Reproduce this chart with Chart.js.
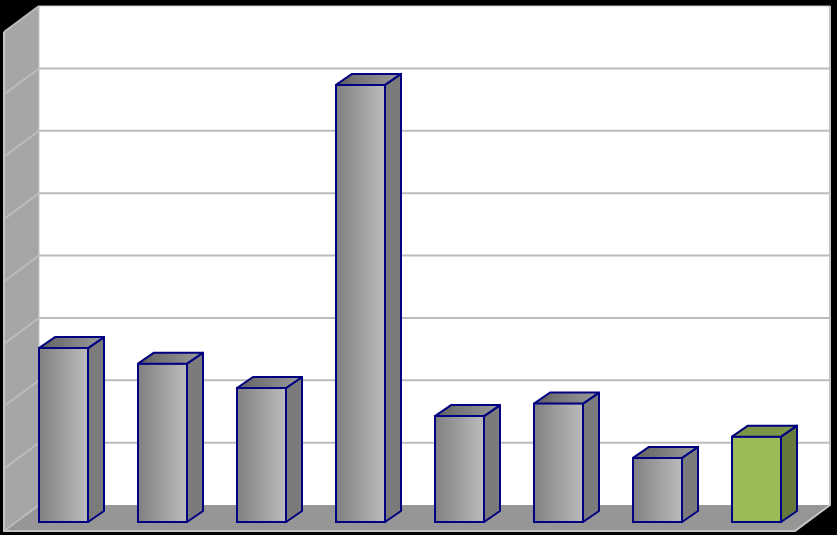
<!DOCTYPE html>
<html>
<head>
<meta charset="utf-8">
<title>Chart</title>
<script src="https://cdn.jsdelivr.net/npm/chart.js@4"></script>
<style>
  html, body { margin: 0; padding: 0; background: #000; }
  canvas { display: block; }
</style>
</head>
<body>
<canvas id="chart" width="837" height="535"></canvas>
<script>
// values (the original shows no labels, so the unit is one gridline)
const categories = ['1', '2', '3', '4', '5', '6', '7', '8'];
const seriesValues = [2.82, 2.57, 2.18, 7.04, 1.73, 1.93, 1.06, 1.4];
const tickValues = [0, 1, 2, 3, 4, 5, 6, 7, 8];

// 3d look: wall depth and bar depth in pixels
const wallDepth = { x: 35, y: -26 };
const barDepth = { x: 16, y: -11 };
const backShift = { x: 25, y: -18 }; // from the bar front plane to the back wall
const navy = '#000080';
const greyFaces = { dark: '#7f7f7f', light: '#bdbdbd', topDark: '#606060', topLight: '#9c9c9c', side: '#7b7b7b' };
const greenFaces = { front: '#9bbb59', top: '#7c9647', side: '#64793a' };
const highlighted = 7;
const barWidth = 51;

function poly(ctx, pts, fill, stroke, lw) {
  ctx.beginPath();
  pts.forEach((p, i) => i ? ctx.lineTo(p[0], p[1]) : ctx.moveTo(p[0], p[1]));
  ctx.closePath();
  if (fill) { ctx.fillStyle = fill; ctx.fill(); }
  if (stroke) { ctx.strokeStyle = stroke; ctx.lineWidth = lw; ctx.stroke(); }
}

const walls = {
  id: 'walls',
  beforeDatasetsDraw(chart) {
    const ctx = chart.ctx, y = chart.scales.y;
    const left = 39, right = 830;
    const top = y.getPixelForValue(8) + backShift.y;
    const floor = y.getPixelForValue(0) + backShift.y;
    ctx.save();
    // back wall
    ctx.fillStyle = '#ffffff';
    ctx.fillRect(left, top, right - left, floor - top);
    // left wall
    poly(ctx, [[left, top], [left, floor], [left - wallDepth.x, floor - wallDepth.y], [left - wallDepth.x, top - wallDepth.y]], '#a6a6a6');
    // floor
    poly(ctx, [[left, floor], [right, floor], [right - wallDepth.x, floor - wallDepth.y], [left - wallDepth.x, floor - wallDepth.y]], '#969696');
    // gridlines
    ctx.strokeStyle = '#bcbcbc';
    ctx.lineWidth = 2;
    tickValues.forEach(v => {
      const py = y.getPixelForValue(v) + backShift.y;
      ctx.beginPath();
      ctx.moveTo(left - wallDepth.x, py - wallDepth.y);
      ctx.lineTo(left, py);
      if (v > 0 && v < 8) ctx.lineTo(right, py);
      ctx.stroke();
    });
    // wall edges
    ctx.strokeStyle = '#c4c4c4';
    ctx.lineWidth = 2;
    ctx.beginPath();
    ctx.moveTo(left - wallDepth.x, top - wallDepth.y);
    ctx.lineTo(left - wallDepth.x, floor - wallDepth.y);
    ctx.lineTo(right - wallDepth.x, floor - wallDepth.y);
    ctx.lineTo(right, floor);
    ctx.lineTo(right, top);
    ctx.stroke();
    ctx.lineWidth = 1;
    ctx.beginPath();
    ctx.moveTo(left, top);
    ctx.lineTo(right, top);
    ctx.moveTo(left, top);
    ctx.lineTo(left, floor);
    ctx.stroke();
    ctx.restore();
  },
  afterDatasetsDraw(chart) {
    const ctx = chart.ctx;
    const dx = barDepth.x, dy = barDepth.y;
    ctx.save();
    ctx.lineJoin = 'round';
    chart.getDatasetMeta(0).data.forEach((bar, i) => {
      const l = bar.x - bar.width / 2 + 1, r = bar.x + bar.width / 2 - 1;
      const t = bar.y + 1, b = bar.base - 1;
      const green = i === highlighted;
      let topFill = greenFaces.top;
      if (!green) {
        topFill = ctx.createLinearGradient(l, 0, r + dx, 0);
        topFill.addColorStop(0, greyFaces.topDark);
        topFill.addColorStop(1, greyFaces.topLight);
      }
      poly(ctx, [[r, t], [r + dx, t + dy], [r + dx, b + dy], [r, b]], green ? greenFaces.side : greyFaces.side, navy, 2);
      poly(ctx, [[l, t], [l + dx, t + dy], [r + dx, t + dy], [r, t]], topFill, navy, 2);
    });
    ctx.restore();
  }
};

new Chart(document.getElementById('chart'), {
  type: 'bar',
  data: {
    labels: categories,
    datasets: [{
      data: seriesValues,
      backgroundColor(c) {
        if (c.dataIndex === highlighted) return greenFaces.front;
        const cx = c.chart.scales.x.getPixelForValue(c.dataIndex);
        // the scale has no size yet on the first pass
        if (!Number.isFinite(cx)) return greyFaces.light;
        const g = c.chart.ctx.createLinearGradient(cx - barWidth / 2, 0, cx + barWidth / 2, 0);
        g.addColorStop(0, greyFaces.dark);
        g.addColorStop(1, greyFaces.light);
        return g;
      },
      borderColor: navy,
      borderWidth: 2,
      borderSkipped: false,
      barPercentage: barWidth / 99,
      categoryPercentage: 1
    }]
  },
  options: {
    responsive: false,
    animation: false,
    layout: { padding: { left: 14, right: 31, top: 24, bottom: 12 } },
    plugins: { legend: { display: false }, title: { display: false }, tooltip: { enabled: false } },
    scales: {
      x: { display: false },
      y: { display: false, min: 0, max: 8 }
    }
  },
  plugins: [walls]
});
</script>
</body>
</html>
